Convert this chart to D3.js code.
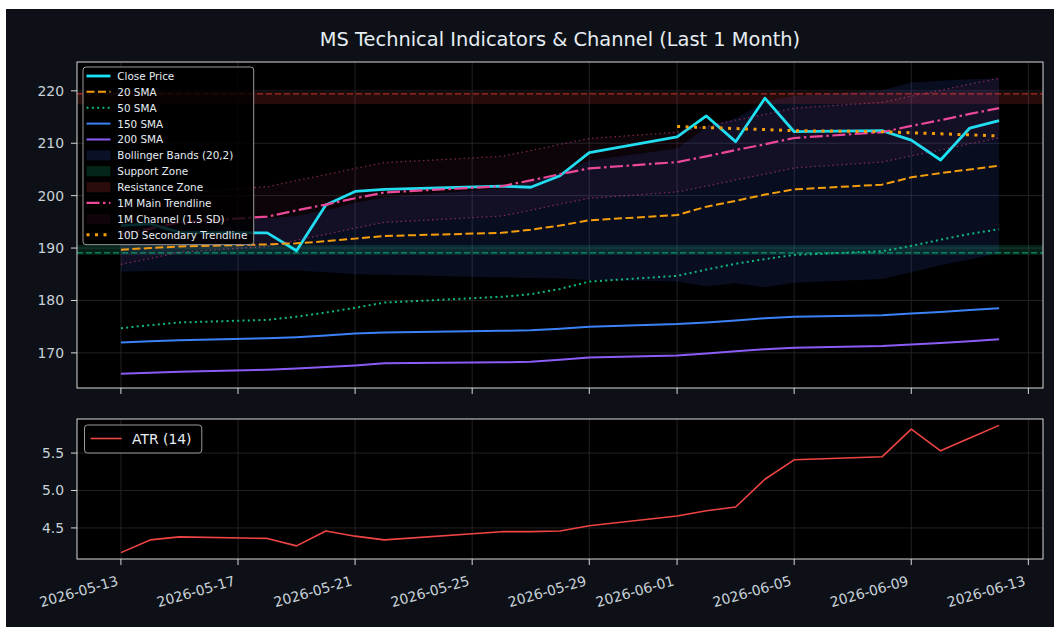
<!DOCTYPE html>
<html><head><meta charset="utf-8">
<script src="https://cdn.jsdelivr.net/npm/d3@7"></script>
<style>body{margin:0;background:#fff;} svg{display:block;font-family:"DejaVu Sans",sans-serif;}</style>
</head><body><svg id="c" width="1054" height="627"></svg>
<script>
// ---------- data ----------
const dates = ["2026-05-13","2026-05-14","2026-05-15","2026-05-18","2026-05-19","2026-05-20","2026-05-21","2026-05-22",
  "2026-05-26","2026-05-27","2026-05-28","2026-05-29","2026-06-01","2026-06-02","2026-06-03","2026-06-04","2026-06-05",
  "2026-06-08","2026-06-09","2026-06-10","2026-06-11","2026-06-12"];
const closePrice = [194.3,194.6,193.0,192.9,189.5,198.2,200.8,201.2,201.8,201.6,203.8,208.2,211.2,215.2,210.3,218.6,212.2,212.4,210.6,206.8,212.9,214.3];
const sma20 = [189.7,190.0,190.3,190.7,190.9,191.3,191.8,192.3,192.9,193.5,194.3,195.3,196.3,197.9,199.0,200.2,201.2,202.1,203.5,204.3,205.0,205.7];
const sma50 = [174.7,175.3,175.8,176.3,176.9,177.7,178.6,179.6,180.7,181.2,182.2,183.6,184.7,185.9,187.0,187.9,188.7,189.4,190.4,191.6,192.7,193.6];
const sma150 = [172.0,172.2,172.4,172.8,173.0,173.3,173.7,173.9,174.2,174.3,174.6,175.0,175.5,175.8,176.2,176.6,176.9,177.2,177.5,177.8,178.2,178.5];
const sma200 = [166.0,166.2,166.4,166.8,167.0,167.3,167.6,168.0,168.2,168.3,168.7,169.1,169.5,169.9,170.3,170.7,171.0,171.3,171.6,171.9,172.2,172.6];
const bbUpper = [193.9,194.4,195.0,195.7,196.1,197.2,198.6,199.7,201.4,202.7,204.4,206.7,209.0,213.1,214.7,217.9,219.0,220.1,221.6,221.9,222.2,222.4];
const bbLower = [185.5,185.6,185.6,185.7,185.7,185.4,185.0,184.9,184.4,184.3,184.2,183.9,183.6,182.7,183.3,182.5,183.4,184.1,185.4,186.7,187.8,189.0];
const trendMain = [192.6,193.7,194.9,196.0,197.2,198.3,199.5,200.6,201.8,202.9,204.1,205.2,206.4,207.5,208.7,209.8,211.0,212.1,213.3,214.4,215.6,216.7];
const channelUpper = [198.3,199.4,200.6,201.7,202.9,204.0,205.2,206.3,207.5,208.6,209.8,210.9,212.1,213.2,214.4,215.5,216.7,217.8,219.0,220.1,221.3,222.4];
const channelLower = [186.9,188.0,189.2,190.3,191.5,192.6,193.8,194.9,196.1,197.2,198.4,199.5,200.7,201.8,203.0,204.1,205.3,206.4,207.6,208.7,209.9,211.0];
const trend10Dates = ["2026-06-01","2026-06-02","2026-06-03","2026-06-04","2026-06-05","2026-06-08","2026-06-09","2026-06-10","2026-06-11","2026-06-12"];
const trend10 = [213.2,213.0,212.8,212.6,212.4,212.2,212.0,211.8,211.6,211.4];
const atr = [4.17,4.34,4.38,4.36,4.26,4.46,4.39,4.34,4.45,4.45,4.46,4.53,4.66,4.73,4.78,5.15,5.41,5.45,5.82,5.53,5.70,5.87];
const supportLevel = 189.1, supportZone = [188.7, 190.6];
const resistanceLevel = 219.4, resistanceZone = [217.5, 219.8];
const priceTicks = [170,180,190,200,210,220];
const atrTicks = [4.5,5.0,5.5];
const xTickLabels = ["2026-05-13","2026-05-17","2026-05-21","2026-05-25","2026-05-29","2026-06-01","2026-06-05","2026-06-09","2026-06-13"];
const titleText = "MS Technical Indicators & Channel (Last 1 Month)";

// ---------- setup ----------
const parse = d3.utcParse("%Y-%m-%d");
const X = dates.map(parse);
const X10 = trend10Dates.map(parse);
const svg = d3.select("#c");
svg.append("rect").attr("x",6).attr("y",9).attr("width",1048).attr("height",618).attr("fill","#0d1117");

const M = {l:77, r:1043, t:62, b:388};
const A = {t:419, b:559};
const x = d3.scaleUtc().domain([d3.utcHour.offset(X[0],-36), d3.utcHour.offset(X[X.length-1],36)]).range([M.l,M.r]);
const y = d3.scaleLinear().domain([163.3,225.5]).range([M.b,M.t]);
const ya = d3.scaleLinear().domain([4.085,5.955]).range([A.b,A.t]);
const TXT = "#c9d1d9", SPINE = "#d8d8d8", GRID = "#2a2a2e";

const defs = svg.append("defs");
defs.append("clipPath").attr("id","cm").append("rect").attr("x",M.l).attr("y",M.t).attr("width",M.r-M.l).attr("height",M.b-M.t);
defs.append("clipPath").attr("id","ca").append("rect").attr("x",M.l).attr("y",A.t).attr("width",M.r-M.l).attr("height",A.b-A.t);

// axes backgrounds
svg.append("rect").attr("x",M.l).attr("y",M.t).attr("width",M.r-M.l).attr("height",M.b-M.t).attr("fill","#000");
svg.append("rect").attr("x",M.l).attr("y",A.t).attr("width",M.r-M.l).attr("height",A.b-A.t).attr("fill","#000");

const xt = xTickLabels.map(parse);
// grids
const gm = svg.append("g").attr("clip-path","url(#cm)");
gm.selectAll(".vg").data(xt).join("line").attr("x1",d=>x(d)).attr("x2",d=>x(d)).attr("y1",M.t).attr("y2",M.b).attr("stroke",GRID).attr("stroke-width",0.8);
gm.selectAll(".hg").data(priceTicks).join("line").attr("x1",M.l).attr("x2",M.r).attr("y1",d=>y(d)).attr("y2",d=>y(d)).attr("stroke",GRID).attr("stroke-width",0.8);
const ga = svg.append("g").attr("clip-path","url(#ca)");
ga.selectAll(".vg").data(xt).join("line").attr("x1",d=>x(d)).attr("x2",d=>x(d)).attr("y1",A.t).attr("y2",A.b).attr("stroke",GRID).attr("stroke-width",0.8);
ga.selectAll(".hg").data(atrTicks).join("line").attr("x1",M.l).attr("x2",M.r).attr("y1",d=>ya(d)).attr("y2",d=>ya(d)).attr("stroke",GRID).attr("stroke-width",0.8);

// ---------- main plot ----------
const area = (lo,hi,xs) => d3.area().x((d,i)=>x(xs[i])).y0((d,i)=>y(lo[i])).y1((d,i)=>y(hi[i]));
const line = (vals,xs,ys) => d3.line().x((d,i)=>x(xs[i])).y((d,i)=>ys(vals[i]));

gm.append("path").datum(X).attr("d",area(bbLower,bbUpper,X)).attr("fill","rgb(59,100,246)").attr("fill-opacity",0.13);
gm.append("rect").attr("x",M.l).attr("width",M.r-M.l).attr("y",y(supportZone[1])).attr("height",y(supportZone[0])-y(supportZone[1])).attr("fill","#10b981").attr("fill-opacity",0.18);
gm.append("rect").attr("x",M.l).attr("width",M.r-M.l).attr("y",y(resistanceZone[1])).attr("height",y(resistanceZone[0])-y(resistanceZone[1])).attr("fill","#ef4444").attr("fill-opacity",0.17);
gm.append("line").attr("x1",M.l).attr("x2",M.r).attr("y1",y(supportLevel)).attr("y2",y(supportLevel)).attr("stroke","#10b981").attr("stroke-opacity",0.75).attr("stroke-width",1.3).attr("stroke-dasharray","6,3");
gm.append("line").attr("x1",M.l).attr("x2",M.r).attr("y1",y(resistanceLevel)).attr("y2",y(resistanceLevel)).attr("stroke","#ef4444").attr("stroke-opacity",0.6).attr("stroke-width",1.3).attr("stroke-dasharray","6,3");

const styles = {
  close:{c:"#18e4f4",w:2.8,d:null},
  s20:{c:"#f59e0b",w:2,d:"8,3.5"},
  s50:{c:"#10b981",w:2,d:"2,3.3"},
  s150:{c:"#3b82f6",w:2,d:null},
  s200:{c:"#8b5cf6",w:2,d:null},
  trend:{c:"#ec4899",w:2.2,d:"13,3.5,2.5,3.5"},
  chan:{c:"#ec4899",w:1.3,d:"1.5,3",o:0.5},
  t10:{c:"#f59e0b",w:3,d:"3,5.5"}
};
function drawLine(g,vals,xs,ys,s){
  g.append("path").datum(vals).attr("d",line(vals,xs,ys)).attr("fill","none").attr("stroke",s.c)
   .attr("stroke-width",s.w).attr("stroke-dasharray",s.d).attr("stroke-opacity",s.o||1).attr("stroke-linejoin","round");
}
drawLine(gm,closePrice,X,y,styles.close);
drawLine(gm,sma20,X,y,styles.s20);
drawLine(gm,sma50,X,y,styles.s50);
drawLine(gm,sma150,X,y,styles.s150);
drawLine(gm,sma200,X,y,styles.s200);
drawLine(gm,trendMain,X,y,styles.trend);
gm.append("path").datum(X).attr("d",area(channelLower,channelUpper,X)).attr("fill","#ec4899").attr("fill-opacity",0.05);
drawLine(gm,channelUpper,X,y,styles.chan);
drawLine(gm,channelLower,X,y,styles.chan);
drawLine(gm,trend10,X10,y,styles.t10);

// ---------- ATR ----------
drawLine(ga,atr,X,ya,{c:"#ef4444",w:1.6,d:null});

// ---------- spines & ticks ----------
[[M.t,M.b],[A.t,A.b]].forEach(([t,b])=>{
  svg.append("rect").attr("x",M.l).attr("y",t).attr("width",M.r-M.l).attr("height",b-t).attr("fill","none").attr("stroke",SPINE).attr("stroke-width",1);
  svg.append("g").selectAll("line").data(xt).join("line").attr("x1",d=>x(d)).attr("x2",d=>x(d)).attr("y1",b).attr("y2",b+6).attr("stroke",SPINE);
});
svg.append("g").selectAll("line").data(priceTicks).join("line").attr("x1",M.l-6).attr("x2",M.l).attr("y1",d=>y(d)).attr("y2",d=>y(d)).attr("stroke",SPINE);
svg.append("g").selectAll("text").data(priceTicks).join("text").attr("x",M.l-13).attr("y",d=>y(d)).attr("text-anchor","end")
  .attr("dominant-baseline","central").attr("fill",TXT).attr("font-size","13.9px").text(d=>d);
svg.append("g").selectAll("line").data(atrTicks).join("line").attr("x1",M.l-6).attr("x2",M.l).attr("y1",d=>ya(d)).attr("y2",d=>ya(d)).attr("stroke",SPINE);
svg.append("g").selectAll("text").data(atrTicks).join("text").attr("x",M.l-13).attr("y",d=>ya(d)).attr("text-anchor","end")
  .attr("dominant-baseline","central").attr("fill",TXT).attr("font-size","13.9px").text(d=>d.toFixed(1));
svg.append("g").selectAll("text").data(xt).join("text")
  .attr("transform",d=>`translate(${x(d)-2},${585}) rotate(-16)`).attr("text-anchor","end")
  .attr("fill",TXT).attr("font-size","13.9px").text(d=>d3.utcFormat("%Y-%m-%d")(d));

// title
svg.append("text").attr("x",(M.l+M.r)/2).attr("y",46).attr("text-anchor","middle").attr("fill","#e6edf3").attr("font-size","19.4px").text(titleText);

// ---------- legends ----------
const lg = svg.append("g");
lg.append("rect").attr("x",83).attr("y",67).attr("width",170.7).attr("height",177.7).attr("rx",3).attr("fill","#000").attr("fill-opacity",0.8).attr("stroke","#9a9a9a").attr("stroke-width",1);
const items = [
  {t:"Close Price",k:"line",s:styles.close},
  {t:"20 SMA",k:"line",s:styles.s20},
  {t:"50 SMA",k:"line",s:styles.s50},
  {t:"150 SMA",k:"line",s:styles.s150},
  {t:"200 SMA",k:"line",s:styles.s200},
  {t:"Bollinger Bands (20,2)",k:"patch",f:"rgb(59,100,246)",o:0.16},
  {t:"Support Zone",k:"patch",f:"#10b981",o:0.2},
  {t:"Resistance Zone",k:"patch",f:"#ef4444",o:0.18},
  {t:"1M Main Trendline",k:"line",s:styles.trend},
  {t:"1M Channel (1.5 SD)",k:"patch",f:"#ec4899",o:0.06},
  {t:"10D Secondary Trendline",k:"line",s:styles.t10}
];
items.forEach((it,i)=>{
  const cy = 76 + i*15.87;
  if(it.k==="line"){
    lg.append("line").attr("x1",86.5).attr("x2",110.5).attr("y1",cy).attr("y2",cy).attr("stroke",it.s.c).attr("stroke-width",it.s.w)
      .attr("stroke-dasharray",it.s.d);
  } else {
    lg.append("rect").attr("x",86.5).attr("y",cy-5).attr("width",24).attr("height",10).attr("fill",it.f).attr("fill-opacity",it.o);
  }
  lg.append("text").attr("x",117.3).attr("y",cy).attr("dominant-baseline","central").attr("fill","#e6edf3").attr("font-size","10.4px").text(it.t);
});

const la = svg.append("g");
la.append("rect").attr("x",84.5).attr("y",425).attr("width",117.3).attr("height",28).attr("rx",3).attr("fill","#000").attr("fill-opacity",0.8).attr("stroke","#9a9a9a").attr("stroke-width",1);
la.append("line").attr("x1",90.6).attr("x2",121.7).attr("y1",438.5).attr("y2",438.5).attr("stroke","#ef4444").attr("stroke-width",1.6);
la.append("text").attr("x",132).attr("y",438.5).attr("dominant-baseline","central").attr("fill","#e6edf3").attr("font-size","13.9px").text("ATR (14)");
</script></body></html>
